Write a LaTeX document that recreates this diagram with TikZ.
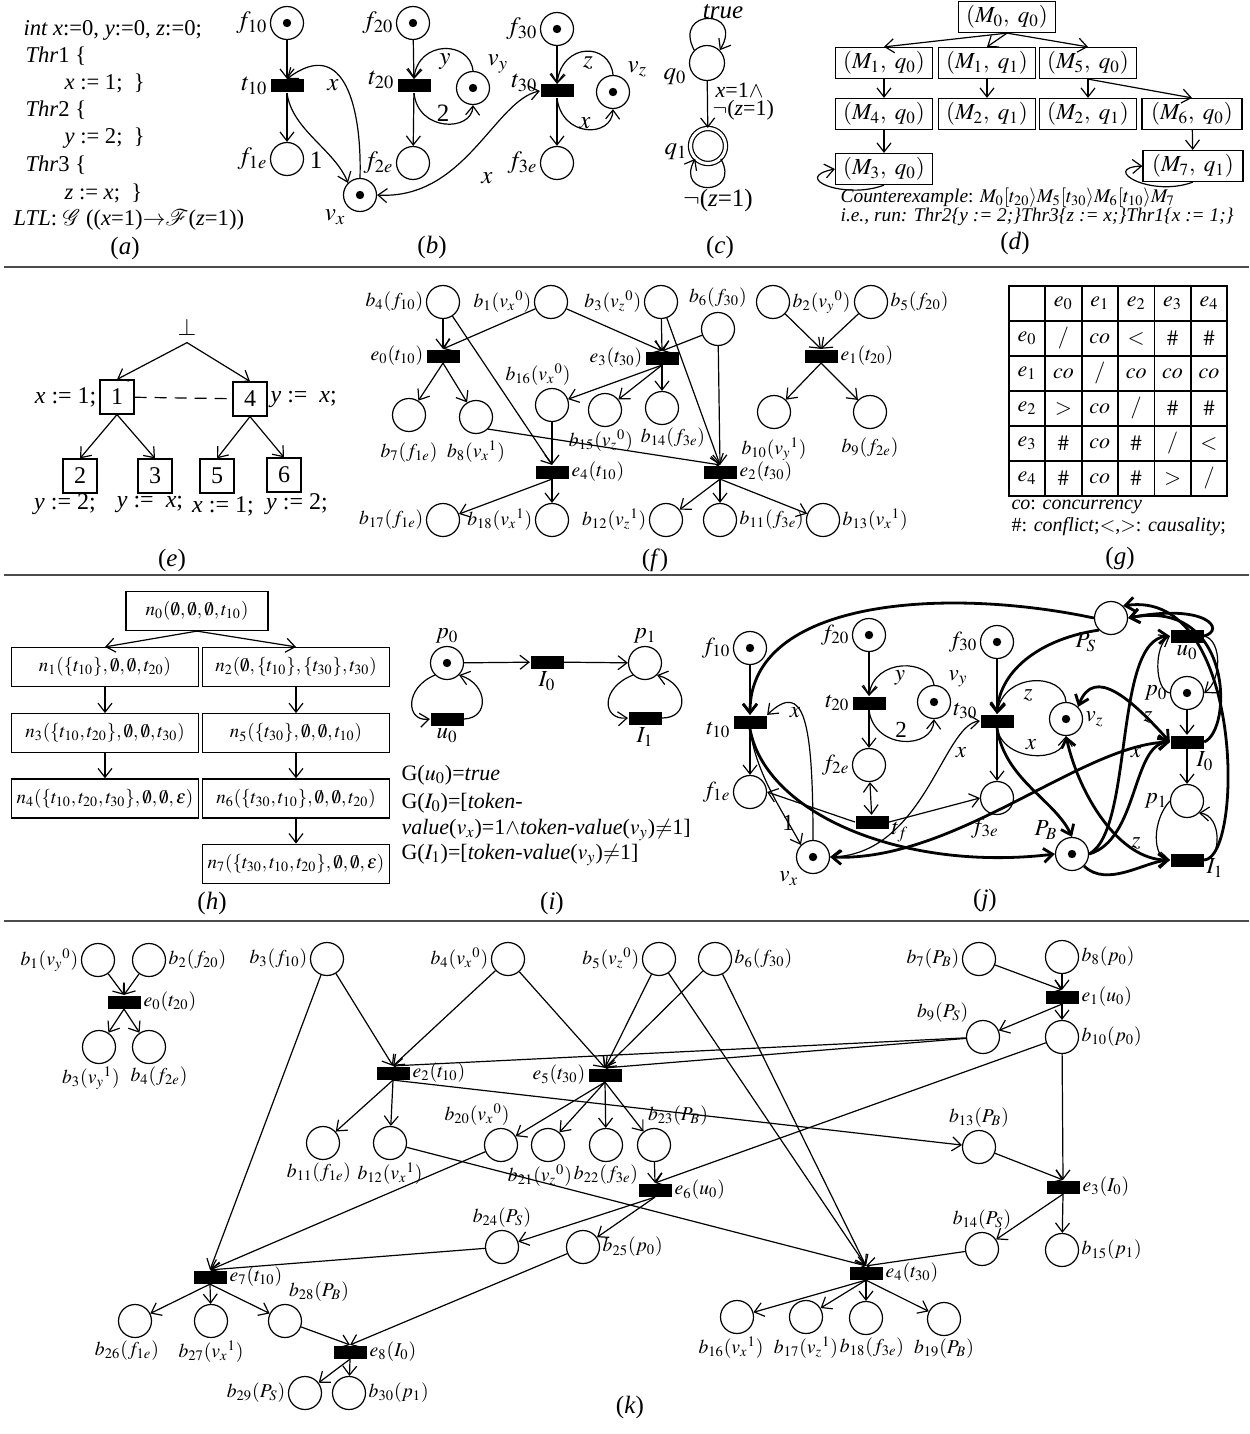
\documentclass[tikz,border=0pt]{standalone}
\usepackage{mathptmx}
\usepackage{fontspec}
\setmainfont{Liberation Serif}
\usetikzlibrary{arrows.meta, positioning, shapes.geometric, matrix}
\tikzset{
    place/.style={circle, draw, minimum size=16.5pt, inner sep=0pt},
    tok/.style={place, path picture={\fill (path picture bounding box.center) circle (2.1pt);}},
    trans/.style={rectangle, fill=black, minimum width=16.5pt, minimum height=6.5pt, inner sep=0pt},
    arr/.style={-{Straight Barb[length=4.5pt, width=7pt]}},
    darr/.style={{Straight Barb[length=4.5pt, width=7pt]}-{Straight Barb[length=4.5pt, width=7pt]}},
    hv/.style={line width=1.4pt},
    sep/.style={draw=black!70, line width=0.9pt},
    txt/.style={inner sep=1pt},
    capt/.style={font=\fontsize{12.5}{15}\selectfont},
    every label/.style={inner sep=1pt}
}

\begin{document}
\begin{tikzpicture}[
    x=0.5pt, y=-0.5pt,
    line width=0.6pt,
    font=\fontsize{11}{13}\selectfont,
    dbox/.style={rectangle, draw, minimum width=48.5pt, minimum height=15.5pt, inner sep=1pt, font=\fontsize{11.5}{14}\selectfont},
    ebox/.style={rectangle, draw, minimum size=17pt, inner sep=0pt},
    hbox/.style={rectangle, draw, minimum width=93.5pt, minimum height=19.5pt, inner sep=1pt}
]
\useasboundingbox (0,0) rectangle (1249,1434);

% separators
\draw[sep] (4,267) -- (1249,267);
\draw[sep] (4,575) -- (1249,575);
\draw[sep] (4,921) -- (1249,921);

\begin{scope}[font=\fontsize{12.5}{15}\selectfont]
    % (a) program and property
    \begin{scope}[font=\fontsize{11.3}{14}\selectfont]
    \node (prog0) [anchor=west, txt] at (21,30) {\textit{int x}:=0, \textit{y}:=0, \textit{z}:=0;};
    \node (prog1) [anchor=west, txt] at (23,56) {\textit{Thr}1 \{};
    \node (prog2) [anchor=west, txt] at (62,83) {\textit{x} := 1;\ \ \}};
    \node (prog3) [anchor=west, txt] at (23,110) {\textit{Thr}2 \{};
    \node (prog4) [anchor=west, txt] at (62,138) {\textit{y} := 2;\ \ \}};
    \node (prog5) [anchor=west, txt] at (23,165) {\textit{Thr}3 \{};
    \node (prog6) [anchor=west, txt] at (62,193) {\textit{z} := \textit{x};\ \ \}};
    \node (prog7) [anchor=west, txt] at (11,220) {\textit{LTL}: $\mathcal{G}$ ((\textit{x}=1)${\rightarrow}\mathcal{F}$(\textit{z}=1))};
    \end{scope}
    \node (capa) [capt] at (125,248) {(\textit{a})};

    % (b) Petri net
    \node (bf10) [tok, label={left:$f_{10}$}] at (287,23) {};
    \node (bt10) [trans, label={left:$t_{10}$}] at (287,86) {};
    \node (bf1e) [place, label={left:$f_{1e}$}] at (287,159) {};
    \node (bvx) [tok, label={below left:$v_x$}] at (360,195) {};
    \node (bf20) [tok, label={left:$f_{20}$}] at (413,23) {};
    \node (bt20) [trans, label={[yshift=3pt]left:$t_{20}$}] at (414,86) {};
    \node (bvy) [tok, label={above right:$v_y$}] at (473,88) {};
    \node (bf2e) [place, label={left:$f_{2e}$}] at (413,163) {};
    \node (bf30) [tok, label={left:$f_{30}$}] at (557,29) {};
    \node (bt30) [trans, label={[yshift=4pt]left:$t_{30}$}] at (557,91) {};
    \node (bvz) [tok, label={above right:$v_z$}] at (613,92) {};
    \node (bf3e) [place, label={left:$f_{3e}$}] at (557,163) {};

    \draw[arr] (bf10) -- (bt10);
    \draw[arr] (bt10) -- (bf1e);
    \draw[arr] (bt10.south) .. controls (292,130) and (335,150) .. (bvx.north west);
    \draw[arr] (bvx.north) .. controls (362,110) and (345,35) .. (bt10.north);
    \draw[arr] (bf20) -- (bt20);
    \draw[arr] (bt20) -- (bf2e);
    \draw[arr] (bvy.north) .. controls (470,40) and (418,40) .. (bt20.north);
    \draw[arr] (bt20.south) .. controls (418,132) and (472,132) .. (bvy.south);
    \draw[arr] (bf30) -- (bt30);
    \draw[arr] (bt30) -- (bf3e);
    \draw[arr] (bvz.north) .. controls (610,42) and (562,42) .. (bt30.north);
    \draw[arr] (bt30.south) .. controls (562,138) and (612,138) .. (bvz.south);
    \draw[darr] (bvx.east) .. controls (465,200) and (495,100) .. (bt30.west);

    \node (blx1) at (333,85) {$x$};
    \node (bl1) at (316,160) {1};
    \node (bly) at (445,62) {$y$};
    \node (bl2) at (443,113) {2};
    \node (blz) at (588,63) {$z$};
    \node (blx2) at (585,123) {$x$};
    \node (blx3) at (487,178) {$x$};
    \node (capb) [capt] at (432,247) {(\textit{b})};

    % (c) Buchi automaton
    \node (q0) [place, minimum size=17.5pt, label={[yshift=-7pt]left:$q_0$}] at (707,63) {};
    \node (q1) [place, minimum size=17.5pt, double, double distance=1.5pt, label={[yshift=-3pt]left:$q_1$}] at (708,146) {};
    \draw[arr] (q0.north west) .. controls (672,8) and (745,8) .. (q0.north east);
    \draw[arr] (q0) -- (q1);
    \draw[arr] (q1.south east) .. controls (742,197) and (674,197) .. (q1.south west);
    \node (ctrue) at (723,12) {\textit{true}};
    \node (cg1) [anchor=west, txt, font=\fontsize{11}{13}\selectfont] at (713,90) {\textit{x}=1$\wedge$};
    \node (cg2) [anchor=west, txt, font=\fontsize{11}{13}\selectfont] at (710,110) {$\neg$(\textit{z}=1)};
    \node (cg3) at (718,200) {$\neg$(\textit{z}=1)};
    \node (capc) [capt] at (720,247) {(\textit{c})};

    % (d) product graph
    \node (m0) [dbox] at (1007,17) {$(M_0,\ q_0)$};
    \node (m1a) [dbox] at (884,63) {$(M_1,\ q_0)$};
    \node (m1b) [dbox] at (987,63) {$(M_1,\ q_1)$};
    \node (m5) [dbox] at (1088,63) {$(M_5,\ q_0)$};
    \node (m4) [dbox] at (884,114) {$(M_4,\ q_0)$};
    \node (m2a) [dbox] at (987,114) {$(M_2,\ q_1)$};
    \node (m2b) [dbox] at (1088,114) {$(M_2,\ q_1)$};
    \node (m6) [dbox, minimum width=50pt] at (1192,114) {$(M_6,\ q_0)$};
    \node (m3) [dbox] at (884,169) {$(M_3,\ q_0)$};
    \node (m7) [dbox, minimum width=50pt] at (1193,166) {$(M_7,\ q_1)$};

    \draw[arr] (m0.south) -- (m1a.north);
    \draw[arr] (m0.south) -- (m1b.north);
    \draw[arr] (m0.south) -- (m5.north);
    \draw[arr] (m1a) -- (m4);
    \draw[arr] (m1b) -- (m2a);
    \draw[arr] (m5.south) -- (m2b.north);
    \draw[arr] (m5.south) -- (m6.north);
    \draw[arr] (m4) -- (m3);
    \draw[arr] (m6) -- (m7);
    \draw[arr] (m3.south) .. controls (845,200) and (790,178) .. (m3.west);
    \draw[arr] (m7.south) .. controls (1150,198) and (1100,168) .. (m7.west);

    \node (cex) [anchor=west, txt, font=\fontsize{9.7}{12}\selectfont] at (838,198) {\textit{Counterexample}: $M_0[t_{20}\rangle M_5[t_{30}\rangle M_6[t_{10}\rangle M_7$};
    \node (crun) [anchor=west, txt, font=\fontsize{9.7}{12}\selectfont] at (838,217) {\itshape i.e., run: Thr2\{y := 2;\}Thr3\{z := x;\}Thr1\{x := 1;\}};
    \node (capd) [capt] at (1015,243) {(\textit{d})};
\end{scope}

% (e) tree
\begin{scope}[font=\fontsize{12}{14}\selectfont]
    \node (ebot) at (187,327) {$\bot$};
    \node (tr1) [ebox] at (117,397) {1};
    \node (tr4) [ebox] at (250,399) {4};
    \node (tr2) [ebox] at (80,476) {2};
    \node (tr3) [ebox] at (155,476) {3};
    \node (tr5) [ebox] at (217,476) {5};
    \node (tr6) [ebox] at (284,475) {6};
    \draw[arr] (ebot.south) -- (tr1.north);
    \draw[arr] (ebot.south) -- (tr4.north);
    \draw[dash pattern=on 6pt off 4pt] (tr1) -- (tr4);
    \draw[arr] (tr1.south) -- (tr2.north);
    \draw[arr] (tr1.south) -- (tr3.north);
    \draw[arr] (tr4.south) -- (tr5.north);
    \draw[arr] (tr4.south) -- (tr6.north);
    \node (ea1) [anchor=east, txt] at (99,397) {\textit{x} := 1;};
    \node (ea4) [anchor=west, txt] at (268,399) {\textit{y} :=\ \ \textit{x};};
    \node (ea2) at (65,504) {\textit{y} := 2;};
    \node (ea3) at (150,504) {\textit{y} :=\ \ \textit{x};};
    \node (ea5) at (223,506) {\textit{x} := 1;};
    \node (ea6) at (297,504) {\textit{y} := 2;};
    \node (cape) [capt] at (172,560) {(\textit{e})};
\end{scope}

% (f) unfolding
\begin{scope}[font=\fontsize{9.8}{12}\selectfont]
\node (fb4) [place, label={left:$b_4(f_{10})$}] at (443,302) {};
\node (fb1) [place, label={left:$b_1(v_x{}^0)$}] at (551,302) {};
\node (fb3) [place, label={left:$b_3(v_z{}^0)$}] at (661,302) {};
\node (fb6) [place, label={[yshift=1pt]above:$b_6(f_{30})$}] at (718,329) {};
\node (fb2) [place, label={right:$b_2(v_y{}^0)$}] at (773,302) {};
\node (fb5) [place, label={right:$b_5(f_{20})$}] at (871,302) {};
\node (fe1) [trans, label={right:$e_1(t_{20})$}] at (821,356) {};
\node (fb10) [place, label={[yshift=-3pt]below:$b_{10}(v_y{}^1)$}] at (774,412) {};
\node (fb9) [place, label={[yshift=-3pt]below:$b_9(f_{2e})$}] at (870,412) {};
\node (fe0) [trans, label={left:$e_0(t_{10})$}] at (443,356) {};
\node (fb7) [place, label={[yshift=-4pt]below:$b_7(f_{1e})$}] at (409,415) {};
\node (fb8) [place, label={[yshift=-2pt]below:$b_8(v_x{}^1)$}] at (476,417) {};
\node (fe3) [trans, label={left:$e_3(t_{30})$}] at (662,358) {};
\node (fb16) [place, label={[xshift=-7pt]above:$b_{16}(v_x{}^0)$}] at (552,405) {};
\node (fb15) [place, label={[xshift=-2pt]below:$b_{15}(v_z{}^0)$}] at (605,410) {};
\node (fb14) [place, label={[xshift=5.5pt]below:$b_{14}(f_{3e})$}] at (662,408) {};
\node (fe4) [trans, label={right:$e_4(t_{10})$}] at (552,472) {};
\node (fe2) [trans, label={right:$e_2(t_{30})$}] at (720,472) {};
\node (fb17) [place, label={left:$b_{17}(f_{1e})$}] at (443,520) {};
\node (fb18) [place, label={left:$b_{18}(v_x{}^1)$}] at (552,520) {};
\node (fb12) [place, label={left:$b_{12}(v_z{}^1)$}] at (666,520) {};
\node (fb11) [place, label={right:$b_{11}(f_{3e})$}] at (720,520) {};
\node (fb13) [place, label={right:$b_{13}(v_x{}^1)$}] at (823,520) {};
\end{scope}

\draw[arr] (fb4) -- (fe0.north);
\draw[arr] (fb1) -- (fe0.north);
\draw[arr] (fb4) -- (fe4.north);
\draw[arr] (fb1) -- (fe3.north);
\draw[arr] (fb3) -- (fe3.north);
\draw[arr] (fb6) -- (fe3.north);
\draw[arr] (fb3) -- (fe2.north);
\draw[arr] (fb6) -- (fe2.north);
\draw[arr] (fe0.south) -- (fb7);
\draw[arr] (fe0.south) -- (fb8);
\draw[arr] (fe3.south) -- (fb16);
\draw[arr] (fe3.south) -- (fb15);
\draw[arr] (fe3.south) -- (fb14);
\draw[arr] (fb16) -- (fe4.north);
\draw[arr] (fb8.south east) -- (fe2.north);
\draw[arr] (fe4.south) -- (fb17);
\draw[arr] (fe4.south) -- (fb18);
\draw[arr] (fe2.south) -- (fb12);
\draw[arr] (fe2.south) -- (fb11);
\draw[arr] (fe2.south) -- (fb13);
\draw[arr] (fb2) -- (fe1.north);
\draw[arr] (fb5) -- (fe1.north);
\draw[arr] (fe1.south) -- (fb10);
\draw[arr] (fe1.south) -- (fb9);
\node (capf) [capt] at (655,560) {(\textit{f})};

% (g) relation table
\matrix (gtab) [matrix of math nodes, nodes in empty cells,
    nodes={draw, line width=0.9pt, minimum width=18.2pt, minimum height=17.5pt, inner sep=0pt, anchor=center},
    column sep=-0.9pt, row sep=-0.9pt] at (1118,391) {
      & e_0 & e_1 & e_2 & e_3 & e_4 \\
  e_0 & / & co & < & \# & \# \\
  e_1 & co & / & co & co & co \\
  e_2 & > & co & / & \# & \# \\
  e_3 & \# & co & \# & / & < \\
  e_4 & \# & co & \# & > & / \\
};
\node (gco) [anchor=west, txt, font=\fontsize{10}{12}\selectfont] at (1009,507) {\textit{co}: \textit{concurrency}};
\node (gcf) [anchor=west, txt, font=\fontsize{10}{12}\selectfont] at (1009,527) {\#: \textit{conflict};$<$,$>$: \textit{causality};};
\node (capg) [capt] at (1120,558) {(\textit{g})};

% (h) search tree
\begin{scope}[font=\fontsize{9.5}{11}\selectfont]
    \node (hn0) [hbox, minimum width=71pt] at (197,611) {$n_0(\emptyset,\emptyset,\emptyset,t_{10})$};
    \node (hn1) [hbox] at (105,667) {$n_1(\{t_{10}\},\emptyset,\emptyset,t_{20})$};
    \node (hn3) [hbox, below=13pt of hn1] {$n_3(\{t_{10},t_{20}\},\emptyset,\emptyset,t_{30})$};
    \node (hn4) [hbox, below=12.5pt of hn3] {$n_4(\{t_{10},t_{20},t_{30}\},\emptyset,\emptyset,\varepsilon)$};
    \node (hn2) [hbox] at (296,667) {$n_2(\emptyset,\{t_{10}\},\{t_{30}\},t_{30})$};
    \node (hn5) [hbox, below=13pt of hn2] {$n_5(\{t_{30}\},\emptyset,\emptyset,t_{10})$};
    \node (hn6) [hbox, below=12.5pt of hn5] {$n_6(\{t_{30},t_{10}\},\emptyset,\emptyset,t_{20})$};
    \node (hn7) [hbox, below=12.5pt of hn6] {$n_7(\{t_{30},t_{10},t_{20}\},\emptyset,\emptyset,\varepsilon)$};
\end{scope}
\draw[arr] (hn0.south) -- (hn1.north);
\draw[arr] (hn0.south) -- (hn2.north);
\draw[arr] (hn1) -- (hn3);
\draw[arr] (hn3) -- (hn4);
\draw[arr] (hn2) -- (hn5);
\draw[arr] (hn5) -- (hn6);
\draw[arr] (hn6) -- (hn7);
\node (caph) [capt] at (212,903) {(\textit{h})};

% (i) observer net
\begin{scope}[font=\fontsize{11.5}{14}\selectfont]
    \node (ip0) [tok, label={above:$p_0$}] at (447,663) {};
    \node (iI0) [trans, label={below:$I_0$}] at (547,662) {};
    \node (iu0) [trans, label={below:$u_0$}] at (447,719) {};
    \node (ip1) [place, label={above:$p_1$}] at (645,663) {};
    \node (iI1) [trans, label={below:$I_1$}] at (645,718) {};
    \draw[arr] (ip0) -- (iI0);
    \draw[arr] (iI0) -- (ip1);
    \draw[arr] (ip0.south west) .. controls (404,688) and (406,722) .. (iu0.west);
    \draw[arr] (iu0.east) .. controls (490,718) and (488,684) .. (ip0.south east);
    \draw[arr] (ip1.south west) .. controls (600,688) and (602,720) .. (iI1.west);
    \draw[arr] (iI1.east) .. controls (690,718) and (688,684) .. (ip1.south east);
    \begin{scope}[font=\fontsize{11}{13}\selectfont]
    \node (ig0) [anchor=west, txt] at (399,775) {G($u_0$)=\textit{true}};
    \node (ig1) [anchor=west, txt] at (399,803) {G($I_0$)=[\textit{token-}};
    \node (ig2) [anchor=west, txt] at (399,830) {\textit{value}($v_x$)=1$\wedge$\textit{token-value}($v_y$)$\neq$1]};
    \node (ig3) [anchor=west, txt] at (399,855) {G($I_1$)=[\textit{token-value}($v_y$)$\neq$1]};
    \end{scope}
\end{scope}
\node (capi) [capt] at (552,903) {(\textit{i})};

% (j) product net
\begin{scope}[font=\fontsize{11.5}{14}\selectfont]
    \node (jf10) [tok, label={left:$f_{10}$}] at (750,648) {};
    \node (jt10) [trans, label={[yshift=-4pt]left:$t_{10}$}] at (750,722) {};
    \node (jf1e) [place, label={left:$f_{1e}$}] at (750,792) {};
    \node (jvx) [tok, label={below left:$v_x$}] at (813,857) {};
    \node (jf20) [tok, label={left:$f_{20}$}] at (869,635) {};
    \node (jt20) [trans, label={left:$t_{20}$}] at (869,703) {};
    \node (jvy) [tok, label={above right:$v_y$}] at (934,702) {};
    \node (jf2e) [place, label={left:$f_{2e}$}] at (869,765) {};
    \node (jtf) [trans, label={[yshift=-5pt]right:$t_f$}] at (872,822) {};
    \node (jf30) [tok, label={left:$f_{30}$}] at (997,642) {};
    \node (jt30) [trans, label={[yshift=5pt]left:$t_{30}$}] at (997,721) {};
    \node (jvz) [tok, label={right:$v_z$}] at (1066,719) {};
    \node (jf3e) [place, label={[xshift=-6pt]below:$f_{3e}$}] at (997,798) {};
    \node (jPS) [place, label={below left:$P_S$}] at (1111,618) {};
    \node (jPB) [tok, label={above left:$P_B$}] at (1072,854) {};
    \node (ju0) [trans, label={below:$u_0$}] at (1187,636) {};
    \node (jp0) [tok, label={left:$p_0$}] at (1187,693) {};
    \node (jI0) [trans, label={below right:$I_0$}] at (1187,742) {};
    \node (jp1) [place, label={left:$p_1$}] at (1187,801) {};
    \node (jI1) [trans, label={[yshift=-4pt]right:$I_1$}] at (1187,860) {};

    % arcs of the program net
    \draw[arr] (jf10) -- (jt10);
    \draw[arr] (jt10) -- (jf1e);
    \draw[arr] (jvx.north) .. controls (813,720) and (804,680) .. (jt10.north east);
    \draw[arr] (jt10.south) .. controls (756,775) and (785,815) .. (jvx.north west);
    \draw[arr] (jf20) -- (jt20);
    \draw[arr] (jt20) -- (jf2e);
    \draw[arr] (jvy.north) .. controls (930,658) and (874,658) .. (jt20.north);
    \draw[arr] (jt20.south) .. controls (874,750) and (933,750) .. (jvy.south);
    \draw[darr] (jf2e) -- (jtf);
    \draw[arr] (jtf.west) -- (jf1e.east);
    \draw[arr] (jtf.east) -- (jf3e.west);
    \draw[arr] (jf30) -- (jt30);
    \draw[arr] (jt30) -- (jf3e);
    \draw[arr] (jvz.north) .. controls (1064,672) and (1003,672) .. (jt30.north);
    \draw[arr] (jt30.south) .. controls (1003,762) and (1064,764) .. (jvz.south);
    \draw[darr] (jvx.east) .. controls (924,855) and (943,725) .. (jt30.west);
    % arcs of the observer
    \draw[arr] (jp0) -- (jI0);
    \draw[arr] (jI0) -- (jp1);
    \draw[arr] (ju0.east) .. controls (1222,640) and (1222,680) .. (jp0.east);
    \draw[arr] (jp0.west) .. controls (1154,690) and (1154,645) .. (ju0.west);
    \draw[arr] (jp1.west) .. controls (1152,820) and (1152,858) .. (jI1.west);
    \draw[arr] (jI1.east) .. controls (1222,860) and (1222,815) .. (jp1.south east);
    % arcs added by the product
    \draw[arr, hv] (jPS.west) .. controls (943,586) and (750,600) .. (jt10.north);
    \draw[arr, hv] (jPS.south west) .. controls (1044,638) and (1000,668) .. (jt30.north);
    \draw[arr, hv] (jt10.south) .. controls (766,815) and (905,872) .. (jPB.west);
    \draw[arr, hv] (jt30.south) .. controls (1005,780) and (1055,800) .. (jPB.north);
    \draw[arr, hv] (jPB.east) .. controls (1134,830) and (1113,640) .. (ju0.west);
    \draw[arr, hv] (jPB.east) .. controls (1138,840) and (1132,745) .. (jI0.west);
    \draw[arr, hv] (jPB.south east) .. controls (1107,888) and (1144,862) .. (jI1.west);
    \draw[arr, hv] (ju0.east) .. controls (1226,630) and (1207,603) .. (jPS.east);
    \draw[arr, hv] (jI0.east) .. controls (1233,730) and (1233,598) .. (jPS.east);
    \draw[arr, hv] (jI1.east) .. controls (1244,858) and (1244,588) .. (jPS.north east);
    \draw[darr, hv] (jvz.north east) .. controls (1094,665) and (1132,700) .. (jI0.west);
    \draw[darr, hv] (jvz.south) .. controls (1079,795) and (1119,860) .. (jI1.west);
    \draw[darr, hv] (jvx.east) .. controls (955,862) and (1081,745) .. (jI0.west);

    \node (jlx1) at (795,713) {$x$};
    \node (jl1) at (788,823) {1};
    \node (jly) at (900,678) {$y$};
    \node (jl2) at (901,730) {2};
    \node (jlz1) at (1028,695) {$z$};
    \node (jlx2) at (1031,745) {$x$};
    \node (jlx3) at (961,753) {$x$};
    \node (jlz2) at (1148,717) {$z$};
    \node (jlx4) at (1136,753) {$x$};
    \node (jlz3) at (1136,843) {$z$};
\end{scope}
\node (capj) [capt] at (985,900) {(\textit{j})};

% (k) unfolding of the product net
\begin{scope}[font=\fontsize{9.8}{12}\selectfont]
\node (kb1) [place, label={left:$b_1(v_y{}^0)$}] at (98,960) {};
\node (kb2) [place, label={right:$b_2(f_{20})$}] at (149,960) {};
\node (ke0) [trans, label={right:$e_0(t_{20})$}] at (124,1002) {};
\node (kb3y) [place, label={[xshift=-4pt]below:$b_3(v_y{}^1)$}] at (99,1047) {};
\node (kb4f) [place, label={[xshift=5pt]below:$b_4(f_{2e})$}] at (149,1047) {};

\node (kb3) [place, label={left:$b_3(f_{10})$}] at (327,959) {};
\node (kb4) [place, label={left:$b_4(v_x{}^0)$}] at (508,959) {};
\node (kb5) [place, label={left:$b_5(v_z{}^0)$}] at (659,959) {};
\node (kb6) [place, label={right:$b_6(f_{30})$}] at (715,959) {};
\node (kb7) [place, label={left:$b_7(P_B)$}] at (979,959) {};
\node (kb8) [place, label={right:$b_8(p_0)$}] at (1062,957) {};
\node (ke1) [trans, label={right:$e_1(u_0)$}] at (1062,997) {};
\node (kb9) [place, label={above left:$b_9(P_S)$}] at (983,1037) {};
\node (kb10) [place, label={right:$b_{10}(p_0)$}] at (1062,1037) {};
\node (ke2) [trans, label={right:$e_2(t_{10})$}] at (393,1073) {};
\node (ke5) [trans, label={left:$e_5(t_{30})$}] at (605,1075) {};
\node (kb11) [place, label={[xshift=-2pt]below:$b_{11}(f_{1e})$}] at (323,1143) {};
\node (kb12) [place, label={below:$b_{12}(v_x{}^1)$}] at (390,1143) {};
\node (kb20) [place, label={[xshift=-12pt]above:$b_{20}(v_x{}^0)$}] at (501,1145) {};
\node (kb21) [place, label={[xshift=-4pt]below:$b_{21}(v_z{}^0)$}] at (548,1145) {};
\node (kb22) [place, label={below:$b_{22}(f_{3e})$}] at (606,1145) {};
\node (kb23) [place, label={[xshift=12pt]above:$b_{23}(P_B)$}] at (654,1145) {};
\node (ke6) [trans, label={right:$e_6(u_0)$}] at (655,1190) {};
\node (kb13) [place, label={above:$b_{13}(P_B)$}] at (979,1147) {};
\node (ke3) [trans, label={right:$e_3(I_0)$}] at (1063,1187) {};
\node (kb14) [place, label={above:$b_{14}(P_S)$}] at (982,1249) {};
\node (kb15) [place, label={right:$b_{15}(p_1)$}] at (1062,1250) {};
\node (kb24) [place, label={above:$b_{24}(P_S)$}] at (502,1247) {};
\node (kb25) [place, label={right:$b_{25}(p_0)$}] at (583,1247) {};
\node (ke4) [trans, label={right:$e_4(t_{30})$}] at (866,1273) {};
\node (kb16) [place, label={[xshift=-3pt]below:$b_{16}(v_x{}^1)$}] at (737,1317) {};
\node (kb17) [place, label={below:$b_{17}(v_z{}^1)$}] at (806,1317) {};
\node (kb18) [place, label={[xshift=3pt]below:$b_{18}(f_{3e})$}] at (866,1318) {};
\node (kb19) [place, label={below:$b_{19}(P_B)$}] at (944,1319) {};
\node (ke7) [trans, label={right:$e_7(t_{10})$}] at (210,1277) {};
\node (kb26) [place, label={[xshift=-4pt]below:$b_{26}(f_{1e})$}] at (135,1321) {};
\node (kb27) [place, label={below:$b_{27}(v_x{}^1)$}] at (211,1321) {};
\node (kb28) [place, label={[xshift=17pt]above:$b_{28}(P_B)$}] at (285,1321) {};
\node (ke8) [trans, label={right:$e_8(I_0)$}] at (350,1352) {};
\node (kb29) [place, label={left:$b_{29}(P_S)$}] at (305,1393) {};
\node (kb30) [place, label={right:$b_{30}(p_1)$}] at (349,1393) {};
\end{scope}

\draw[arr] (kb1) -- (ke0.north);
\draw[arr] (kb2) -- (ke0.north);
\draw[arr] (ke0.south) -- (kb3y);
\draw[arr] (ke0.south) -- (kb4f);

\draw[arr] (kb3) -- (ke2.north);
\draw[arr] (kb3) -- (ke7.north);
\draw[arr] (kb4) -- (ke2.north);
\draw[arr] (kb4) -- (ke5.north);
\draw[arr] (kb5) -- (ke5.north);
\draw[arr] (kb6) -- (ke5.north);
\draw[arr] (kb5) -- (ke4.north);
\draw[arr] (kb6) -- (ke4.north);
\draw[arr] (kb7) -- (ke1.north);
\draw[arr] (kb8) -- (ke1.north);
\draw[arr] (ke1.south) -- (kb9);
\draw[arr] (ke1.south) -- (kb10);
\draw[arr] (kb9) -- (ke2.north);
\draw[arr] (kb9) -- (ke5.north);
\draw[arr] (kb10) -- (ke3.north);
\draw[arr] (kb10) -- (ke6.north);
\draw[arr] (ke2.south) -- (kb11);
\draw[arr] (ke2.south) -- (kb12);
\draw[arr] (ke2.south) -- (kb13);
\draw[arr] (ke5.south) -- (kb20);
\draw[arr] (ke5.south) -- (kb21);
\draw[arr] (ke5.south) -- (kb22);
\draw[arr] (ke5.south) -- (kb23);
\draw[arr] (kb20) -- (ke7.north);
\draw[arr] (kb23) -- (ke6.north);
\draw[arr] (kb12) -- (ke4.north);
\draw[arr] (ke6.south) -- (kb24);
\draw[arr] (ke6.south) -- (kb25);
\draw[arr] (kb24) -- (ke7.north);
\draw[arr] (kb25) -- (ke8.north);
\draw[arr] (kb13) -- (ke3.north);
\draw[arr] (ke3.south) -- (kb14);
\draw[arr] (ke3.south) -- (kb15);
\draw[arr] (kb14) -- (ke4.north);
\draw[arr] (ke4.south) -- (kb16);
\draw[arr] (ke4.south) -- (kb17);
\draw[arr] (ke4.south) -- (kb18);
\draw[arr] (ke4.south) -- (kb19);
\draw[arr] (ke7.south) -- (kb26);
\draw[arr] (ke7.south) -- (kb27);
\draw[arr] (ke7.south) -- (kb28);
\draw[arr] (kb28) -- (ke8.north);
\draw[arr] (ke8.south) -- (kb29);
\draw[arr] (ke8.south) -- (kb30);
\node (capk) [capt] at (630,1407) {(\textit{k})};

\end{tikzpicture}
\end{document}
